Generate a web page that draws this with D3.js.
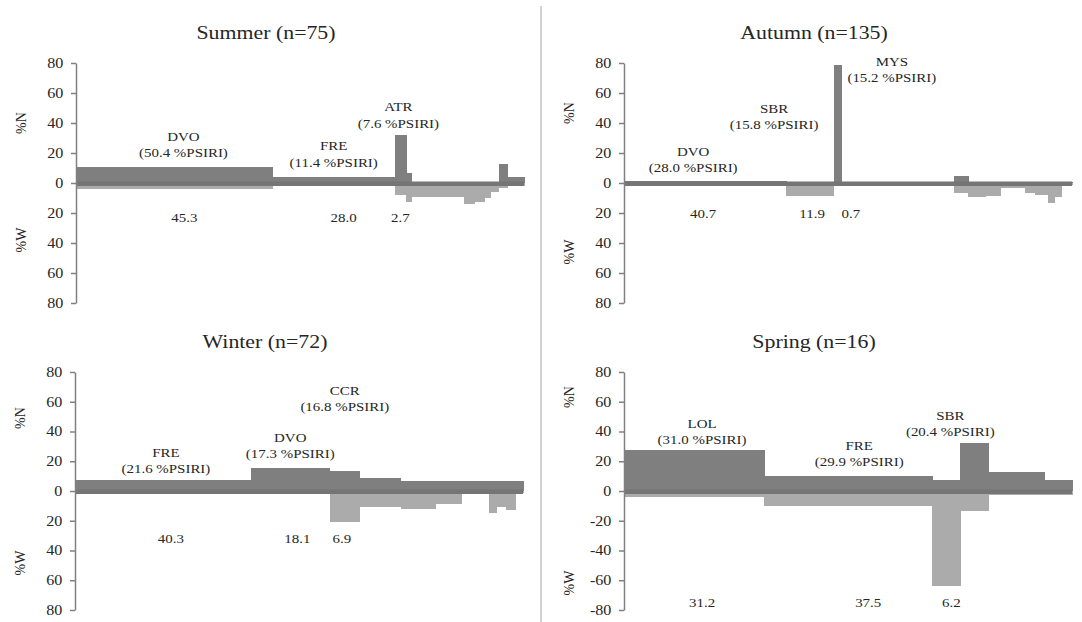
<!DOCTYPE html>
<html>
<head>
<meta charset="utf-8">
<script src="https://cdn.jsdelivr.net/npm/d3@7"></script>
<style>
  body { margin: 0; background: #fff; }
  text { font-family: "Liberation Serif", "Times New Roman", serif; fill: #262626; }
</style>
</head>
<body>
<div id="chart"></div>
<script>
// ---- data: prey, bar width (%FO as drawn), %N (up) and %W (down) ----
var summerPrey = ["DVO", "FRE", "ATR", "S04", "S05", "S06", "S07", "S08", "S09", "S10", "S11", "S12"];
var summerFO   = [45.3, 28.0, 2.7, 1.3, 4.4, 7.6, 2.3, 2.3, 1.6, 1.8, 2.1, 3.7];
var summerN    = [11, 4, 32, 6.7, 1, 1, 1, 1, 1, 1, 12.7, 4];
var summerW    = [4, 1, 8, 12.5, 9.5, 9, 14, 12.5, 10, 6, 3, 2];

var autumnPrey = ["DVO", "SBR", "MYS", "A04", "A05", "A06", "A07", "A08", "A09", "A10", "A11", "A12", "A13", "A14", "A15"];
var autumnFO   = [40.7, 11.9, 2.0, 9.4, 9.4, 9.4, 3.5, 4.2, 3.8, 6.2, 2.5, 3.2, 1.7, 1.7, 2.7];
var autumnN    = [1.5, 1, 79, 0.5, 0.5, 0.5, 5, 1, 1, 1, 1, 1, 1, 1, 1];
var autumnW    = [1, 8.7, 2, 0.5, 0.5, 0.5, 6.5, 9.5, 8.7, 3, 6.7, 8, 13.5, 9, 1];

var winterPrey = ["FRE", "DVO", "CCR", "W04", "W05", "W06", "W07", "W08", "W09", "W10", "W11"];
var winterFO   = [40.3, 18.1, 6.9, 9.4, 8.0, 6.0, 6.2, 1.8, 2.1, 2.1, 1.8];
var winterN    = [7.4, 15.6, 13.4, 8.7, 7, 7, 7, 7, 7, 7, 7];
var winterW    = [1.5, 1.5, 20.6, 10.5, 12, 8.7, 1.5, 14.5, 10.7, 13, 1.5];

var springPrey = ["LOL", "FRE", "SBR", "P04", "P05", "P06"];
var springFO   = [31.2, 37.5, 6.2, 6.2, 12.5, 6.2];
var springN    = [27.5, 10, 7.4, 32.4, 13, 7.4];
var springW    = [3.8, 10, 63.8, 13.2, 3, 3];

// labelled prey: %PSIRI and printed %FO
var summerPSIRI = [50.4, 11.4, 7.6];
var summerFOText = ["45.3", "28.0", "2.7"];
var autumnPSIRI = [28.0, 15.8, 15.2];
var autumnFOText = ["40.7", "11.9", "0.7"];
var winterPSIRI = [21.6, 17.3, 16.8];
var winterFOText = ["40.3", "18.1", "6.9"];
var springPSIRI = [31.0, 29.9, 20.4];
var springFOText = ["31.2", "37.5", "6.2"];

var yTicks = [-80, -60, -40, -20, 0, 20, 40, 60, 80];

// ---- layout ----
var width = 1082, height = 622;
var plotW = 448;
var SX = 1.15;           // the source figure is stretched horizontally
var darkGrey = '#7f7f7f', lightGrey = '#ababab';

// annotation placement: [name dx, name y (%), number dx]
var panels = [
  {title: 'Summer (n=75)', prey: summerPrey, fo: summerFO, n: summerN, w: summerW,
   psiri: summerPSIRI, foText: summerFOText, left: 76, top: 63, bottom: 303, signed: false,
   ann: [[9, 31.3, 10], [0, 24.7, 10], [-2, 50.7, 0]], numY: -22.7, nY: 123, wY: 240},
  {title: 'Autumn (n=135)', prey: autumnPrey, fo: autumnFO, n: autumnN, w: autumnW,
   psiri: autumnPSIRI, foText: autumnFOText, left: 624, top: 63, bottom: 303, signed: false,
   ann: [[-12, 21.3, -2], [-36, 50, 2], [54, 81.3, 13]], numY: -20, nY: 113, wY: 252},
  {title: 'Winter (n=72)', prey: winterPrey, fo: winterFO, n: winterN, w: winterW,
   psiri: winterPSIRI, foText: winterFOText, left: 75, top: 372, bottom: 610, signed: false,
   ann: [[3, 26.2, 8], [0, 36.2, 7], [0, 67.8, -3]], numY: -32.2, nY: 418, wY: 563},
  {title: 'Spring (n=16)', prey: springPrey, fo: springFO, n: springN, w: springW,
   psiri: springPSIRI, foText: springFOText, left: 624, top: 372, bottom: 610, signed: true,
   ann: [[8, 45.6, 8], [11, 30.9, 20], [4, 51, 5]], numY: -75.2, nY: 397, wY: 583}
];

var svg = d3.select('#chart')
  .append('svg')
  .attr('width', width)
  .attr('height', height);

// divider between columns
svg.append('line')
  .attr('x1', 541).attr('x2', 541)
  .attr('y1', 6).attr('y2', height)
  .attr('stroke', '#d2d2d2')
  .attr('stroke-width', 2);

function putText(g, str, x, y, size, anchor) {
  return g.append('text')
    .attr('transform', 'translate(' + x + ',' + y + ') scale(' + SX + ',1)')
    .attr('text-anchor', anchor || 'middle')
    .style('font-size', size + 'px')
    .text(str);
}

panels.forEach(function(p) {
  var g = svg.append('g');

  var x = d3.scaleLinear()
    .domain([0, d3.sum(p.fo)])
    .range([p.left, p.left + plotW]);
  var y = d3.scaleLinear()
    .domain([-80, 80])
    .range([p.bottom, p.top]);

  var ends = Array.from(d3.cumsum(p.fo));
  var bars = p.prey.map(function(d, i) {
    return {prey: d, x0: i ? ends[i - 1] : 0, x1: ends[i], n: p.n[i], w: p.w[i]};
  });

  // %W below zero
  g.selectAll('.wbar')
    .data(bars)
    .enter()
    .append('rect')
    .attr('class', 'wbar')
    .attr('x', function(d) { return x(d.x0); })
    .attr('width', function(d) { return x(d.x1) - x(d.x0) + 0.5; })
    .attr('y', y(0))
    .attr('height', function(d) { return y(-d.w) - y(0); })
    .attr('fill', lightGrey)
    .attr('shape-rendering', 'crispEdges');

  // %N above zero
  g.selectAll('.nbar')
    .data(bars)
    .enter()
    .append('rect')
    .attr('class', 'nbar')
    .attr('x', function(d) { return x(d.x0); })
    .attr('width', function(d) { return x(d.x1) - x(d.x0) + 0.5; })
    .attr('y', function(d) { return y(d.n); })
    .attr('height', function(d) { return y(0) - y(d.n); })
    .attr('fill', darkGrey)
    .attr('shape-rendering', 'crispEdges');

  // thick zero line
  g.append('rect')
    .attr('x', x(0))
    .attr('width', plotW)
    .attr('y', y(0) - 1.5)
    .attr('height', 4.5)
    .attr('fill', '#757575');

  // y axis
  var axis = g.append('g')
    .attr('transform', 'translate(' + p.left + ',0)')
    .call(d3.axisLeft(y)
      .tickValues(yTicks)
      .tickSize(5)
      .tickSizeOuter(0)
      .tickPadding(6)
      .tickFormat(function(d) { return p.signed ? String(d) : String(Math.abs(d)); }));
  axis.attr('font-family', null).attr('font-size', null);
  axis.select('.domain').attr('stroke', '#808080').attr('stroke-width', 1.5);
  axis.selectAll('.tick line').attr('stroke', '#808080').attr('stroke-width', 1.5);
  axis.selectAll('.tick text')
    .style('font-size', '14px')
    .attr('fill', '#262626')
    .attr('transform', 'scale(' + SX + ',1)');

  // axis titles
  g.append('text')
    .attr('transform', 'translate(' + (p.left - 55) + ',' + p.nY + ') rotate(-90)')
    .attr('text-anchor', 'middle')
    .attr('dy', '0.35em')
    .style('font-size', '14px')
    .text('%N');
  g.append('text')
    .attr('transform', 'translate(' + (p.left - 55) + ',' + p.wY + ') rotate(-90)')
    .attr('text-anchor', 'middle')
    .attr('dy', '0.35em')
    .style('font-size', '14px')
    .text('%W');

  // title
  putText(g, p.title, p.left + 190, p.top - 24, 19);

  // labels of the main prey
  p.psiri.forEach(function(v, i) {
    var b = bars[i];
    var cx = (x(b.x0) + x(b.x1)) / 2;
    var a = p.ann[i];
    var ny = y(a[1]) + 4.5;
    putText(g, b.prey, cx + a[0], ny, 13);
    putText(g, '(' + v.toFixed(1) + ' %PSIRI)', cx + a[0], ny + 16.5, 13);
    putText(g, p.foText[i], cx + a[2], y(p.numY) + 4.5, 13);
  });
});
</script>
</body>
</html>
